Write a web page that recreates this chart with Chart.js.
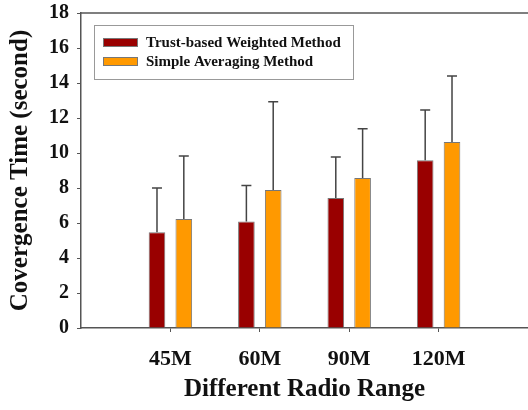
<!DOCTYPE html>
<html>
<head>
<meta charset="utf-8">
<script src="https://cdn.jsdelivr.net/npm/chart.js@4/dist/chart.umd.min.js"></script>
<style>
  body { margin: 0; background: #fff; }
  #wrap { width: 528px; height: 410px; }
</style>
</head>
<body>
<div id="wrap"><canvas id="bar-chart"></canvas></div>
<script>
// values
const ranges = ['45M', '60M', '90M', '120M'];
const trustMean = [5.47, 6.08, 7.43, 9.58];
const trustErr = [2.53, 2.07, 2.34, 2.88];
const simpleMean = [6.23, 7.89, 8.57, 10.63];
const simpleErr = [3.6, 5.04, 2.82, 3.77];

// an empty slot on each side so the groups sit like the original
const labels = [''].concat(ranges, ['']);
const pad = arr => [null].concat(arr, [null]);

const serif = "'Liberation Serif', 'Times New Roman', serif";
const axisColor = '#555';

const errorBars = {
    id: 'errorBars',
    afterDatasetsDraw(chart) {
        const ctx = chart.ctx;
        const yScale = chart.scales.y;
        ctx.save();
        ctx.strokeStyle = '#444';
        ctx.lineWidth = 1.5;
        chart.data.datasets.forEach((ds, di) => {
            const meta = chart.getDatasetMeta(di);
            meta.data.forEach((bar, i) => {
                const v = ds.data[i];
                if (v == null) return;
                const top = yScale.getPixelForValue(v + ds.errors[i]);
                ctx.beginPath();
                ctx.moveTo(bar.x, bar.y);
                ctx.lineTo(bar.x, top);
                ctx.moveTo(bar.x - 5, top);
                ctx.lineTo(bar.x + 5, top);
                ctx.stroke();
            });
        });
        ctx.restore();
    }
};

// top frame line and the boxed legend inside the plot
const frameAndLegend = {
    id: 'frameAndLegend',
    afterDraw(chart) {
        const ctx = chart.ctx;
        const a = chart.chartArea;
        ctx.save();
        ctx.strokeStyle = axisColor;
        ctx.lineWidth = 1.5;
        ctx.beginPath();
        ctx.moveTo(a.left, a.top);
        ctx.lineTo(a.right, a.top);
        ctx.stroke();

        const bx = a.left + 13, by = a.top + 12;
        ctx.lineWidth = 1;
        ctx.strokeStyle = '#999';
        ctx.strokeRect(bx + 0.5, by + 0.5, 259, 54);

        ctx.font = 'bold 15px ' + serif;
        ctx.textBaseline = 'middle';
        chart.data.datasets.forEach((ds, i) => {
            const cy = by + 17.5 + i * 19;
            ctx.fillStyle = ds.backgroundColor;
            ctx.fillRect(bx + 9, cy - 4.5, 35, 9);
            ctx.strokeStyle = '#777';
            ctx.strokeRect(bx + 9.5, cy - 4, 34, 8);
            ctx.fillStyle = '#111';
            ctx.fillText(ds.label, bx + 52, cy + 1);
        });
        ctx.restore();
    }
};

const data = {
    labels: labels,
    datasets: [{
        label: 'Trust-based Weighted Method',
        data: pad(trustMean),
        errors: pad(trustErr),
        backgroundColor: '#990000',
        borderColor: '#777',
        borderWidth: 1
    },
    {
        label: 'Simple Averaging Method',
        data: pad(simpleMean),
        errors: pad(simpleErr),
        backgroundColor: '#FF9900',
        borderColor: '#777',
        borderWidth: 1
    }]
};

const config = {
    type: 'bar',
    data: data,
    plugins: [errorBars, frameAndLegend],
    options: {
        responsive: true,
        maintainAspectRatio: false,
        animation: false,
        categoryPercentage: 0.6,
        barPercentage: 0.62,
        layout: { padding: { top: 13, right: -5, left: 0, bottom: 0 } },
        plugins: {
            legend: { display: false },
            tooltip: { enabled: false }
        },
        scales: {
            x: {
                offset: false,
                afterFit: s => {
                    s.height = 82;
                    s.paddingLeft = 0;
                    s.paddingRight = 0;
                },
                grid: {
                    offset: false,
                    drawOnChartArea: false,
                    tickLength: 4,
                    color: c => (c.index === 0 || c.index === labels.length - 1) ? 'rgba(0,0,0,0)' : axisColor
                },
                border: { display: true, color: axisColor, width: 1.5 },
                ticks: {
                    autoSkip: false,
                    maxRotation: 0,
                    padding: 14,
                    color: '#111',
                    font: { family: serif, size: 22, weight: 'bold' }
                },
                title: {
                    display: true,
                    text: 'Different Radio Range',
                    color: '#111',
                    padding: { top: 0, bottom: 5 },
                    font: { family: serif, size: 25, weight: 'bold' }
                }
            },
            y: {
                min: 0,
                max: 18,
                afterFit: s => {
                    s.width = 81;
                    s.paddingTop = 0;
                    s.paddingBottom = 0;
                },
                grid: { drawOnChartArea: false, tickLength: 4, color: axisColor },
                border: { display: true, color: axisColor, width: 1.5 },
                ticks: {
                    stepSize: 2,
                    padding: 8,
                    color: '#111',
                    font: { family: serif, size: 20, weight: 'bold' }
                },
                title: {
                    display: true,
                    text: 'Covergence Time (second)',
                    color: '#111',
                    padding: { top: 6, bottom: 0 },
                    font: { family: serif, size: 25, weight: 'bold' }
                }
            }
        }
    }
};

window.onload = function() {
    const ctx = document.getElementById('bar-chart').getContext('2d');
    window.myBar = new Chart(ctx, config);
};
</script>
</body>
</html>
